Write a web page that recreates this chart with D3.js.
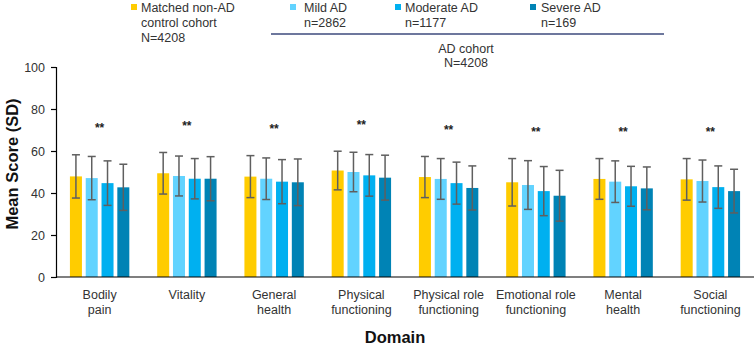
<!DOCTYPE html>
<html>
<head>
<meta charset="utf-8">
<script src="https://cdn.jsdelivr.net/npm/d3@7"></script>
<style>
  html, body { margin: 0; padding: 0; background: #fff; }
  svg { display: block; font-family: "Liberation Sans", Arial, sans-serif; }
</style>
</head>
<body>
<svg id="chart" width="755" height="345"></svg>
<script>
// ---- data ----
const categories = [
  ["Bodily", "pain"],
  ["Vitality"],
  ["General", "health"],
  ["Physical", "functioning"],
  ["Physical role", "functioning"],
  ["Emotional role", "functioning"],
  ["Mental", "health"],
  ["Social", "functioning"]
];
const seriesNames = ["Matched non-AD control cohort", "Mild AD", "Moderate AD", "Severe AD"];
const controlMean  = [47.9, 49.4, 47.8, 50.7, 47.6, 45.1, 46.7, 46.5];
const controlSD    = [10.3,  9.9, 10.0,  9.2,  9.8, 11.3,  9.7,  9.9];
const mildMean     = [47.1, 48.1, 46.8, 50.0, 46.7, 43.8, 45.4, 45.7];
const mildSD       = [10.3,  9.5,  9.9,  9.4,  9.7, 11.6,  9.9, 10.0];
const moderateMean = [44.7, 46.8, 45.4, 48.4, 44.7, 40.9, 43.2, 42.8];
const moderateSD   = [10.6,  9.6, 10.5,  9.9, 10.0, 11.7,  9.5, 10.1];
const severeMean   = [42.7, 46.8, 45.1, 47.3, 42.4, 38.7, 42.2, 40.9];
const severeSD     = [11.0, 10.5, 11.1, 10.7, 10.5, 12.1, 10.2, 10.4];
const significance = ["**", "**", "**", "**", "**", "**", "**", "**"];
const yTicks = [0, 20, 40, 60, 80, 100];
const legendLines = [
  ["Matched non-AD", "control cohort", "N=4208"],
  ["Mild AD", "n=2862"],
  ["Moderate AD", "n=1177"],
  ["Severe AD", "n=169"]
];
const groupLabel = ["AD cohort", "N=4208"];
const yTitle = "Mean Score (SD)";
const xTitle = "Domain";

const colors = ["#FFCC00", "#62D3FF", "#00B0F0", "#0083B5"];
const means = [controlMean, mildMean, moderateMean, severeMean];
const sds = [controlSD, mildSD, moderateSD, severeSD];

// ---- layout ----
const svg = d3.select("#chart");
const plotLeft = 56, plotRight = 754, plotTop = 67, plotBottom = 277;
const catKeys = categories.map((c, i) => i);

const x = d3.scaleBand().domain(catKeys).range([plotLeft, plotRight]).paddingInner(0).paddingOuter(0);
const bw = x.bandwidth();
const groupSpan = 59.4;
const xSub = d3.scaleBand().domain(d3.range(4))
  .range([bw / 2 - groupSpan / 2, bw / 2 + groupSpan / 2])
  .paddingInner(0.24).paddingOuter(0);
const y = d3.scaleLinear().domain([0, 100]).range([plotBottom, plotTop]);

// y axis
const yAxis = d3.axisLeft(y).tickValues(yTicks).tickSize(5).tickSizeOuter(5).tickPadding(6);
const gy = svg.append("g").attr("transform", `translate(${plotLeft},0)`).call(yAxis);
gy.select(".domain").attr("stroke", "#000").attr("stroke-width", 1.2);
gy.selectAll(".tick line").attr("stroke", "#000").attr("stroke-width", 1.2);
gy.selectAll(".tick text").attr("font-size", 12.5).attr("fill", "#333")
  .attr("font-family", "Liberation Sans, Arial, sans-serif");

// bars
const data = [];
catKeys.forEach(ci => {
  for (let s = 0; s < 4; s++) {
    data.push({ ci, s, mean: means[s][ci], sd: sds[s][ci] });
  }
});
const g = svg.append("g");
g.selectAll("rect.bar").data(data).join("rect")
  .attr("class", "bar")
  .attr("x", d => x(d.ci) + xSub(d.s))
  .attr("width", xSub.bandwidth())
  .attr("y", d => y(d.mean))
  .attr("height", d => y(0) - y(d.mean))
  .attr("fill", d => colors[d.s]);

// error bars
const capW = 8;
const eb = g.selectAll("g.err").data(data).join("g").attr("class", "err")
  .attr("stroke", "#5f5f5f").attr("stroke-width", 1.5);
eb.append("line")
  .attr("x1", d => x(d.ci) + xSub(d.s) + xSub.bandwidth() / 2)
  .attr("x2", d => x(d.ci) + xSub(d.s) + xSub.bandwidth() / 2)
  .attr("y1", d => y(d.mean + d.sd)).attr("y2", d => y(d.mean - d.sd));
eb.append("line")
  .attr("x1", d => x(d.ci) + xSub(d.s) + xSub.bandwidth() / 2 - capW / 2)
  .attr("x2", d => x(d.ci) + xSub(d.s) + xSub.bandwidth() / 2 + capW / 2)
  .attr("y1", d => y(d.mean + d.sd)).attr("y2", d => y(d.mean + d.sd));
eb.append("line")
  .attr("x1", d => x(d.ci) + xSub(d.s) + xSub.bandwidth() / 2 - capW / 2)
  .attr("x2", d => x(d.ci) + xSub(d.s) + xSub.bandwidth() / 2 + capW / 2)
  .attr("y1", d => y(d.mean - d.sd)).attr("y2", d => y(d.mean - d.sd));

// significance stars
svg.append("g").selectAll("text").data(catKeys).join("text")
  .attr("x", ci => x(ci) + bw / 2)
  .attr("y", ci => y(d3.max(d3.range(4), s => means[s][ci] + sds[s][ci]) + 13) + 5)
  .attr("text-anchor", "middle").attr("font-size", 12).attr("font-weight", "bold").attr("fill", "#222")
  .text(ci => significance[ci]);

// x axis line
svg.append("line").attr("x1", plotLeft).attr("x2", plotRight)
  .attr("y1", y(0)).attr("y2", y(0)).attr("stroke", "#000").attr("stroke-width", 1.2);

// category labels
const cl = svg.append("g").selectAll("text").data(catKeys).join("text")
  .attr("text-anchor", "middle").attr("font-size", 12.5).attr("fill", "#333");
cl.each(function(ci) {
  const t = d3.select(this);
  categories[ci].forEach((line, li) => {
    t.append("tspan").attr("x", x(ci) + bw / 2).attr("y", y(0) + 22 + li * 15).text(line);
  });
});

// axis titles
svg.append("text").attr("x", 395).attr("y", 343).attr("text-anchor", "middle")
  .attr("font-size", 16.5).attr("font-weight", "bold").attr("fill", "#111").text(xTitle);
svg.append("text").attr("transform", `translate(18,${(plotTop + plotBottom) / 2 - 8}) rotate(-90)`)
  .attr("text-anchor", "middle").attr("font-size", 16.5).attr("font-weight", "bold").attr("fill", "#111").text(yTitle);

// legend
const legendPos = [[131, 141], [290, 304], [395, 405], [530, 541]];
legendLines.forEach((lines, i) => {
  svg.append("rect").attr("x", legendPos[i][0]).attr("y", 4).attr("width", 6).attr("height", 6).attr("fill", colors[i]);
  const t = svg.append("text").attr("font-size", 12.5).attr("fill", "#333");
  lines.forEach((line, li) => {
    t.append("tspan").attr("x", legendPos[i][1]).attr("y", 11.5 + li * 15).text(line);
  });
});
svg.append("line").attr("x1", 271).attr("x2", 664).attr("y1", 34).attr("y2", 34)
  .attr("stroke", "#3c4a7d").attr("stroke-width", 1.5);
const gl = svg.append("text").attr("font-size", 12.5).attr("fill", "#333").attr("text-anchor", "middle");
groupLabel.forEach((line, li) => {
  gl.append("tspan").attr("x", 466).attr("y", 52.5 + li * 14).text(line);
});
</script>
</body>
</html>
